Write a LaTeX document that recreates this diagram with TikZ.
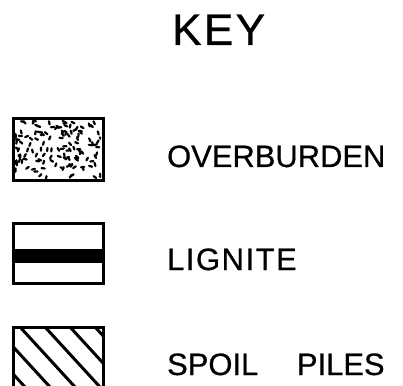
\documentclass[tikz,border=0pt]{standalone}
\usepackage{fontspec}
\setmainfont{Liberation Sans}
\newfontfamily\keyfont[BoldFont={Liberation Sans}, BoldFeatures={FakeBold=0.6}]{Liberation Sans}

\begin{document}
\begin{tikzpicture}[x=0.5mm, y=-0.5mm,
  keyline/.style={line width=1.5mm, line join=miter},
  hatchline/.style={line width=1.5mm},
  grain/.style={line width=1.1mm, line cap=round},
  keytext/.style={anchor=base west, inner sep=0pt, font=\keyfont\bfseries\fontsize{44}{48}\selectfont}]
\clip (0,0) rectangle (403,386);

% title
\node[anchor=base west, inner sep=0pt, font=\keyfont\bfseries\fontsize{63}{68}\selectfont] (title) at (172,45) {\addfontfeature{LetterSpace=5}KEY};

% overburden: stippled box
\begin{scope}
  \clip (15,121) rectangle (101,178);
  \pgfmathsetseed{11}
  \foreach \i in {1,...,130}{
    \pgfmathsetmacro\px{15+86*rnd}
    \pgfmathsetmacro\py{121+57*rnd}
    \pgfmathsetmacro\pa{360*rnd}
    \draw[grain] (\px,\py) -- ++(\pa:3.2);
  }
\end{scope}
\draw[keyline] (13,119) rectangle (103,180);
\node[keytext] (overburden) at (167,167) {OVERBURDEN};

% lignite: seam band
\draw[keyline] (13,223) rectangle (103,283);
\fill (13,249) rectangle (103,263);
\node[keytext] (lignite) at (167,270) {\addfontfeature{LetterSpace=5}LIGNITE};

% spoil piles: hatching
\begin{scope}
  \clip (13,327) rectangle (103,390);
  \foreach \c in {-43,-18,7,32,57,82}
    \draw[hatchline] (13+\c,327) -- ++(55,60);
\end{scope}
\draw[keyline] (13,327) rectangle (103,390);
\node[keytext] (spoil) at (167,375) {SPOIL\hspace{1.25em}PILES};
\end{tikzpicture}
\end{document}
